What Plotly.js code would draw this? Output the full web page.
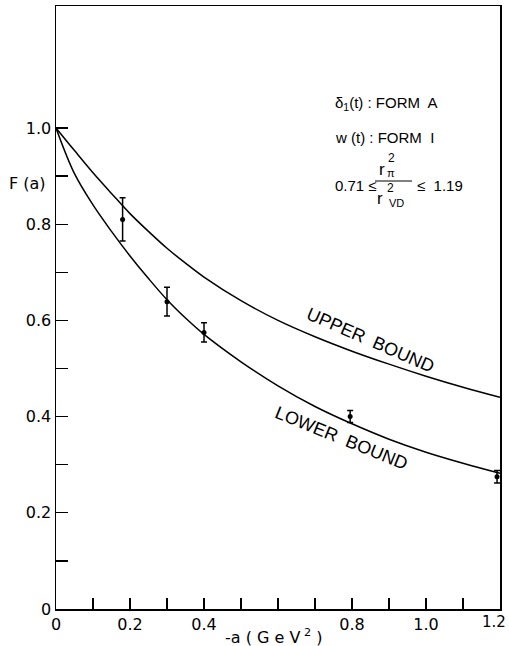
<!DOCTYPE html>
<html>
<head>
<meta charset="utf-8">
<script src="https://cdn.plot.ly/plotly-3.0.1.min.js"></script>
<style>html,body{margin:0;padding:0;background:#fff;}#chart{width:509px;height:646px;}</style>
</head>
<body>
<div id="chart"></div>
<script>
// Curves
var upperX = [0, 0.05, 0.1, 0.15, 0.2, 0.25, 0.3, 0.35, 0.4, 0.5, 0.6, 0.7, 0.8, 0.9, 1.0, 1.1, 1.2];
var upperY = [1.0, 0.953, 0.907, 0.864, 0.822, 0.785, 0.750, 0.719, 0.690, 0.641, 0.600, 0.566, 0.536, 0.509, 0.484, 0.461, 0.440];
var lowerX = [0, 0.05, 0.1, 0.15, 0.2, 0.25, 0.3, 0.35, 0.4, 0.5, 0.6, 0.7, 0.8, 0.9, 1.0, 1.1, 1.2];
var lowerY = [1.0, 0.905, 0.840, 0.785, 0.734, 0.687, 0.643, 0.605, 0.571, 0.514, 0.464, 0.421, 0.385, 0.353, 0.326, 0.303, 0.282];
// Data points with error bars
var dataX = [0.18, 0.30, 0.40, 0.795, 1.192];
var dataY = [0.81, 0.639, 0.575, 0.40, 0.275];
var dataErr = [0.045, 0.03, 0.02, 0.0125, 0.013];
// Tick labels (the last x label, 1.2, is drawn right-aligned at the axis end)
var xTickVals = [0, 0.1, 0.2, 0.3, 0.4, 0.5, 0.6, 0.7, 0.8, 0.9, 1.0, 1.1, 1.2];
var xTickText = ['0', '', '0.2', '', '0.4', '', '', '', '0.8', '', '1.0', '', ''];
var xLastLabel = '1.2';
var yTickVals = [0, 0.1, 0.2, 0.3, 0.4, 0.5, 0.6, 0.7, 0.8, 0.9, 1.0];
var yTickText = ['0', '', '0.2', '', '0.4', '', '0.6', '', '0.8', '', '1.0'];

var FONT = 'Liberation Sans, Arial, sans-serif';
var TFONT = 'DejaVu Sans, sans-serif';

var traces = [
  {x: upperX, y: upperY, mode: 'lines', line: {color: '#000', width: 1.5, shape: 'spline', smoothing: 1}, hoverinfo: 'skip'},
  {x: lowerX, y: lowerY, mode: 'lines', line: {color: '#000', width: 1.5, shape: 'spline', smoothing: 1}, hoverinfo: 'skip'},
  {x: dataX, y: dataY, mode: 'markers', marker: {color: '#000', size: 5},
   error_y: {type: 'data', array: dataErr, visible: true, color: '#000', thickness: 1.5, width: 3}}
];

function px2px(px) { return (px - 56) / 444; }
function py2py(py) { return (609 - py) / 603; }

var ann = [
  {text: 'δ<sub>1</sub>(t) : FORM  A', x: px2px(333), y: py2py(103), xanchor: 'left', yanchor: 'middle', font: {size: 15}},
  {text: 'w (t) : FORM  I', x: px2px(333), y: py2py(137), xanchor: 'left', yanchor: 'middle', font: {size: 15}},
  {text: '0.71 ≤', x: px2px(333), y: py2py(185), xanchor: 'left', yanchor: 'middle', font: {size: 15}},
  {text: 'r', x: px2px(382), y: py2py(169), xanchor: 'center', yanchor: 'middle', font: {size: 17}},
  {text: '2', x: px2px(391), y: py2py(158), xanchor: 'center', yanchor: 'middle', font: {size: 12}},
  {text: 'π', x: px2px(391), y: py2py(173), xanchor: 'center', yanchor: 'middle', font: {size: 11}},
  {text: 'r', x: px2px(380), y: py2py(198), xanchor: 'center', yanchor: 'middle', font: {size: 17}},
  {text: '2', x: px2px(390), y: py2py(188), xanchor: 'center', yanchor: 'middle', font: {size: 12}},
  {text: 'VD', x: px2px(396), y: py2py(203), xanchor: 'center', yanchor: 'middle', font: {size: 11}},
  {text: '≤  1.19', x: px2px(415), y: py2py(185), xanchor: 'left', yanchor: 'middle', font: {size: 15}},
  {text: 'UPPER  BOUND', x: px2px(370), y: py2py(340), xanchor: 'center', yanchor: 'middle', textangle: 23.5, font: {size: 18}},
  {text: 'LOWER  BOUND', x: px2px(341), y: py2py(438), xanchor: 'center', yanchor: 'middle', textangle: 22, font: {size: 18}},
  {text: 'F (a)', x: px2px(27), y: py2py(183), xanchor: 'center', yanchor: 'middle', font: {size: 16, family: TFONT}},
  {text: '-a ( G e V<sup> 2</sup> )', x: px2px(273), y: py2py(636), xanchor: 'center', yanchor: 'middle', font: {size: 16, family: TFONT}},
  {text: xLastLabel, x: px2px(508), y: py2py(622), xanchor: 'right', yanchor: 'middle', font: {size: 15, family: TFONT}}
];
ann.forEach(function(a){ a.xref = 'paper'; a.yref = 'paper'; a.showarrow = false; if (!a.font.family) a.font.family = FONT; a.font.color = '#000'; });

var layout = {
  width: 509, height: 646,
  margin: {l: 56, r: 9, t: 6, b: 37, pad: 0},
  paper_bgcolor: '#fff', plot_bgcolor: '#fff',
  showlegend: false,
  font: {family: FONT, color: '#000', size: 15},
  xaxis: {
    range: [0, 1.2], showgrid: false, zeroline: false,
    showline: true, linecolor: '#000', linewidth: 1.5, mirror: true,
    ticks: 'inside', ticklen: 11, tickwidth: 1.3, tickcolor: '#000',
    tickmode: 'array', tickvals: xTickVals, ticktext: xTickText,
    tickfont: {size: 16, family: TFONT}
  },
  yaxis: {
    range: [0, 1.2536], showgrid: false, zeroline: false,
    showline: true, linecolor: '#000', linewidth: 1.5, mirror: true,
    ticks: 'inside', ticklen: 12, tickwidth: 1.3, tickcolor: '#000',
    tickmode: 'array', tickvals: yTickVals, ticktext: yTickText,
    tickfont: {size: 16, family: TFONT}
  },
  annotations: ann,
  shapes: [
    {type: 'line', xref: 'paper', yref: 'paper', x0: px2px(375), x1: px2px(412), y0: py2py(181), y1: py2py(181), line: {color: '#000', width: 1}}
  ]
};

Plotly.newPlot('chart', traces, layout, {displayModeBar: false, staticPlot: true});
</script>
</body>
</html>
